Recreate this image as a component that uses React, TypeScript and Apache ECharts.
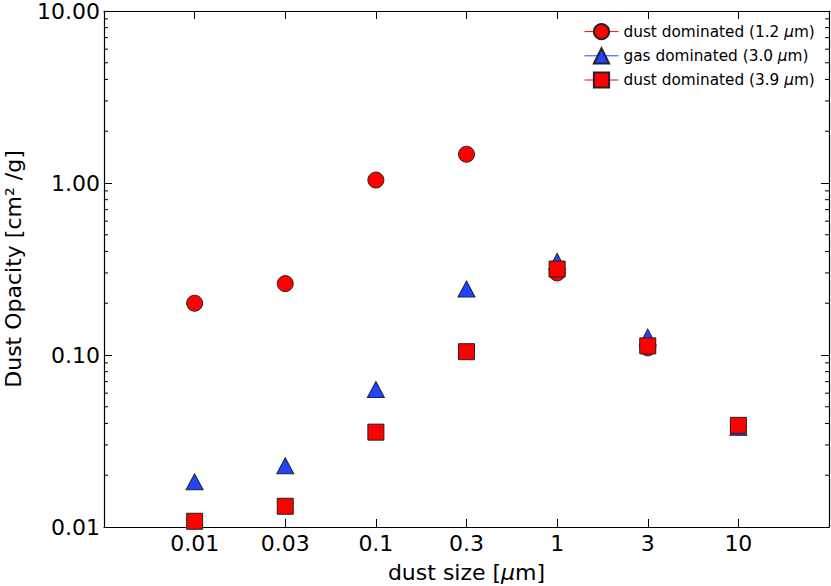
import React, { useEffect, useRef } from "react";
import * as echarts from "echarts";

const xLabels = ["0.01", "0.03", "0.1", "0.3", "1", "3", "10"];
const dust12 = [0.2, 0.26, 1.04, 1.47, 0.3, 0.11, 0.038];
const gas30 = [0.0183, 0.0227, 0.063, 0.242, 0.35, 0.127, 0.038];
const dust39 = [0.0108, 0.0132, 0.0356, 0.1045, 0.316, 0.113, 0.039];
const seriesNames = [
  "dust dominated (1.2 {i|μ}m)",
  "gas dominated (3.0 {i|μ}m)",
  "dust dominated (3.9 {i|μ}m)",
];
const minorY = [
  0.02, 0.03, 0.04, 0.05, 0.06, 0.07, 0.08, 0.09,
  0.2, 0.3, 0.4, 0.5, 0.6, 0.7, 0.8, 0.9,
  2, 3, 4, 5, 6, 7, 8, 9,
];

const FONT = "DejaVu Sans";
const FS = 22;
const LFS = 15.3;

export default function App() {
  const ref = useRef<HTMLDivElement>(null);
  useEffect(() => {
    if (!ref.current) return;
    const chart = echarts.init(ref.current, null, { renderer: "svg" });
    const pts = (arr: number[]) => arr.map((v, i) => [i, v]);
    const edge = { borderColor: "#222", borderWidth: 1 };
    const axisLine = { show: true, onZero: false, lineStyle: { color: "#000", width: 1.2 } };
    const tick = { show: true, inside: true, length: 8, lineStyle: { color: "#000", width: 1 } };
    const colors = ["#ff0000", "#2244ff", "#ff0000"];
    const symbols = ["circle", "triangle", "rect"];
    const datas = [dust12, gas30, dust39];
    const option: any = {
      animation: false,
      textStyle: { fontFamily: FONT, color: "#000" },
      grid: {
        left: 104,
        right: 2,
        top: 11,
        bottom: 59,
        containLabel: false,
        outerBoundsMode: "none",
      },
      legend: {
        orient: "vertical",
        left: 579,
        top: 18,
        itemWidth: 34,
        itemHeight: 19,
        itemGap: 7,
        textStyle: {
          fontFamily: FONT,
          fontSize: LFS,
          color: "#000",
          rich: { i: { fontStyle: "italic", fontSize: LFS, fontFamily: FONT } },
        },
        data: seriesNames.map((n, k) => ({
          name: n,
          lineStyle: { color: colors[k], width: 1, opacity: 1 },
        })),
      },
      xAxis: [
        {
          type: "value",
          min: -1,
          max: 7,
          interval: 1,
          name: "dust size [{i|μ}m]",
          nameLocation: "middle",
          nameGap: 34,
          nameTextStyle: {
            fontFamily: FONT,
            fontSize: FS,
            color: "#000",
            rich: { i: { fontStyle: "italic", fontSize: FS, fontFamily: FONT } },
          },
          axisLine,
          axisTick: tick,
          splitLine: { show: false },
          axisLabel: {
            fontFamily: FONT,
            fontSize: FS,
            color: "#000",
            margin: 5,
            formatter: (v: number) => (v >= 0 && v < xLabels.length ? xLabels[v] : ""),
          },
        },
        {
          type: "value",
          position: "top",
          min: -1,
          max: 7,
          interval: 1,
          axisLine,
          axisTick: tick,
          splitLine: { show: false },
          axisLabel: { show: false },
        },
      ],
      yAxis: [
        {
          type: "log",
          logBase: 10,
          min: 0.01,
          max: 10,
          name: "Dust Opacity [cm² /g]",
          nameLocation: "middle",
          nameGap: 80,
          nameTextStyle: { fontFamily: FONT, fontSize: FS, color: "#000" },
          axisLine,
          axisTick: tick,
          minorTick: { show: false },
          splitLine: { show: false },
          axisLabel: {
            fontFamily: FONT,
            fontSize: FS,
            color: "#000",
            margin: 4,
            formatter: (v: number) => v.toFixed(2),
          },
        },
        {
          type: "log",
          logBase: 10,
          position: "right",
          min: 0.01,
          max: 10,
          axisLine,
          axisTick: tick,
          splitLine: { show: false },
          axisLabel: { show: false },
        },
      ],
      series: [
        ...datas.map((d, k) => ({
          name: seriesNames[k],
          type: "line",
          data: pts(d),
          symbol: symbols[k],
          symbolSize: k === 1 ? [17, 16] : 16,
          showSymbol: true,
          lineStyle: { opacity: 0, width: 0, color: colors[k] },
          itemStyle: { color: colors[k], ...edge },
          clip: true,
          z: 3 + k,
        })),
        {
          type: "custom",
          name: "minor",
          data: minorY.map((v) => [0, v]),
          silent: true,
          z: 2,
          renderItem: (params: any, api: any) => {
            const y = api.coord([0, api.value(1)])[1];
            const cs = params.coordSys;
            const st = { stroke: "#000", lineWidth: 1 };
            return {
              type: "group",
              children: [
                { type: "line", shape: { x1: cs.x, y1: y, x2: cs.x + 4, y2: y }, style: st },
                { type: "line", shape: { x1: cs.x + cs.width - 4, y1: y, x2: cs.x + cs.width, y2: y }, style: st },
              ],
            };
          },
        },
      ],
    };
    chart.setOption(option);
    return () => chart.dispose();
  }, []);
  return (
    <div
      ref={ref}
      style={{ position: "fixed", left: 0, top: 0, width: 831, height: 586, background: "#fff" }}
    />
  );
}
